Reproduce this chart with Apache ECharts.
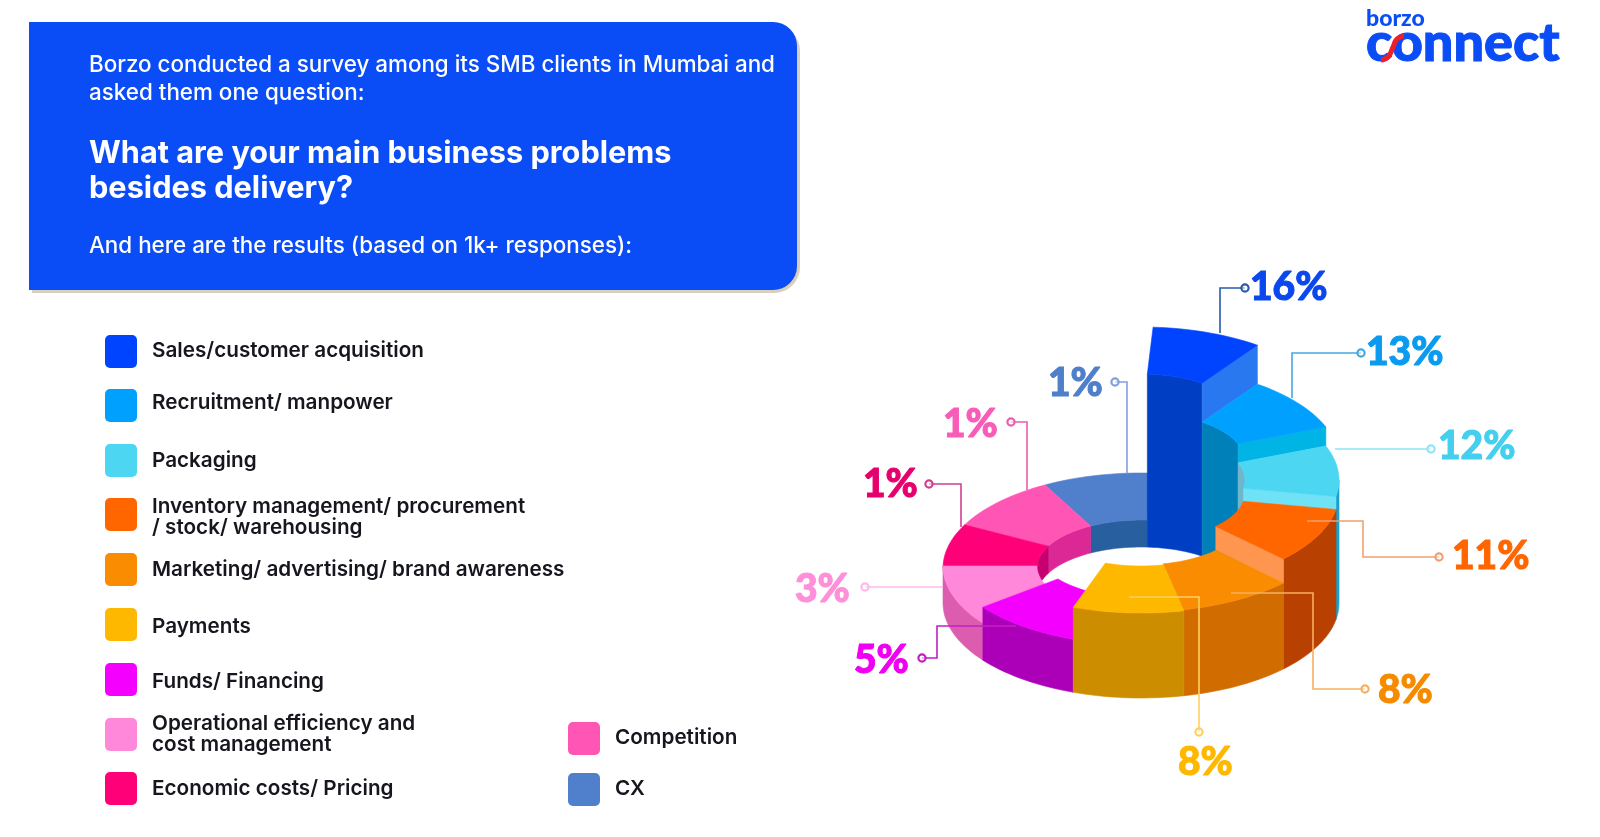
<!DOCTYPE html>
<html><head><meta charset="utf-8">
<style>html,body{margin:0;padding:0;background:#fff}#c{width:1600px;height:837px}</style>
<script src="https://cdn.jsdelivr.net/npm/echarts@6/dist/echarts.min.js"></script>
</head><body><div id="c"></div>
<script>
// ---- data ----
const categories = ['Sales/customer acquisition','Recruitment/ manpower','Packaging','Inventory management/ procurement\n/ stock/ warehousing','Marketing/ advertising/ brand awareness','Payments','Funds/ Financing','Operational efficiency and\ncost management','Economic costs/ Pricing','Competition','CX'];
const percentLabels = [16,13,12,11,8,8,5,3,1,1,1];
// the drawing gives each slice a near equal sweep and a height that carries the value
const sliceSweeps = [32.5,33,31,34,33.5,32.5,33,37,27,34,32.5];
const sliceHeights = [181,142,123,110,86,85,53,37,35,35,35];
const firstAngle = 3.5;

// ---- styles ----
const topColors = ['#0044ff','#00a0ff','#4dd6f2','#ff6600','#f98c00','#ffb800','#f400ff','#ff88da','#ff0078','#ff55b4','#5080cc'];
const outerColors = ['#0036c8','#0080c0','#1a9fd0','#b84000','#d06c00','#cc8e00','#ac00b8','#dc5cb0','#c60070','#dc2895','#28609f'];
const innerColors = ['#003fc4','#0080b8','#6db6cc','#b84000','#d06c00','#cc8e00','#ac00b8','#dc5cb0','#c60070','#dc2895','#28609f'];
const endColors = ['#2a78f0','#00b4e6','#6fe2f5','#ff9650','#d88a10','#ffb800','#f400ff','#ff88da','#ff0078','#ff55b4','#5080cc'];
const labelColors = ['#0a48ee','#0a9bf0','#45cfee','#ff6600','#f68b00','#ffb800','#f000f0','#ff8fd8','#e6006e','#f95cb8','#4f7fcb'];
const leaderColors = ['#2a5aa8','#45a8de','#8fe4f6','#f0a070','#f5b060','#ffd060','#c020c0','#ffb8e8','#d0408f','#e85fb0','#7fa0e0'];
const swatchColors = ['#0044ff','#00a0ff','#4dd6f2','#ff6600','#f98c00','#ffb800','#f400ff','#ff88da','#ff0078','#ff55b4','#5080cc'];

// ---- layout ----
const RX=198, RY=95, IX=104, IY=48, INNER_BASE=8;
const leaderPaths = [
 [[1245,288],[1220,288],[1220,333]],
 [[1361,353],[1292,353],[1292,398]],
 [[1431,449],[1335,449]],
 [[1439,557],[1363,557],[1363,521],[1307,521]],
 [[1365,689],[1313,689],[1313,593],[1231,593]],
 [[1199,732],[1199,597],[1129,597]],
 [[922,658],[937,658],[937,626],[1016,626]],
 [[865,587],[943,587]],
 [[929,484],[961,484],[961,527]],
 [[1011,422],[1027,422],[1027,490]],
 [[1115,382],[1127,382],[1127,473]]
];
const labelAnchors = [[1250,287],[1366,352],[1438,446],[1452,556],[1378,690],[1178,762],[854,660],[795,589],[863,484],[943,424],[1048,383]];
const legendItems = [
 [105,335,152,351],[105,389,152,403],[105,444,152,461],[105,498,152,517],[105,553,152,570],[105,608,152,627],[105,663,152,682],[105,718,152,734],[105,772,152,789],[568,722,615,738],[568,773,615,789]
];
const FF='Inter, Lato, sans-serif', FP='Lato, sans-serif';

// ---- slices ----
const rows=[]; let a=firstAngle;
categories.forEach((c,i)=>{ rows.push([i,a,a+sliceSweeps[i],sliceHeights[i]]); a+=sliceSweeps[i]; });
const rad=d=>d*Math.PI/180;
function arc(rx,ry,h,a0,a1){ const n=Math.max(2,Math.ceil(Math.abs(a1-a0)/2)),p=[]; for(let k=0;k<=n;k++){const t=rad(a0+(a1-a0)*k/n); p.push([rx*Math.sin(t),h+ry*Math.cos(t)]);} return p; }
function clip(a0,a1,lo,hi){ const s=Math.max(a0,lo),e=Math.min(a1,hi); return s<e?[s,e]:null; }

function renderSlice(params,api){
  const i=api.value(0),a0=api.value(1),a1=api.value(2),h=api.value(3);
  const mid=(a0+a1)/2, order=Math.round((-Math.cos(rad(mid))+1)*100);
  const kids=[];
  const poly=(pts,fill,sub)=>kids.push({type:'polygon',z2:order*10+sub,
     shape:{points:pts.map(p=>api.coord(p))},style:{fill:fill,stroke:fill,lineWidth:0.6}});
  [[0,90],[270,450]].forEach(w=>{ const c=clip(a0,a1,w[0],w[1]); if(c){
     poly(arc(IX,IY,h,c[0],c[1]).concat(arc(IX,IY,INNER_BASE,c[1],c[0])),innerColors[i],1);} });
  const o=clip(a0,a1,90,270);
  if(o){ poly(arc(RX,RY,h,o[0],o[1]).concat(arc(RX,RY,0,o[1],o[0])),outerColors[i],2); }
  const next=sliceHeights[(i+1)%sliceHeights.length];
  if(a1<180 && next<h){
    const t=rad(a1),s=Math.sin(t),k=Math.cos(t);
    poly([[RX*s,h+RY*k],[IX*s,h+IY*k],[IX*s,next+IY*k],[RX*s,next+RY*k]],endColors[i],3);
  }
  poly(arc(RX,RY,h,a0,a1).concat(arc(IX,IY,h,a1,a0)),topColors[i],4);
  return {type:'group',children:kids};
}

// ---- page furniture ----
const g=[];
const T=(text,x,y,size,weight,fill,extra)=>g.push({type:'text',z:20,x:x,y:y,
   style:Object.assign({text:text,fontFamily:FF,fontSize:size,fontWeight:weight,fill:fill,verticalAlign:'middle',align:'left',lineHeight:21},extra||{})});
g.push({type:'rect',z:1,shape:{x:32,y:25,width:768,height:268,r:[0,26,26,0]},style:{fill:'#d8cfbf'}});
g.push({type:'rect',z:2,shape:{x:29,y:22,width:768,height:268,r:[0,24,24,0]},style:{fill:'#0a4cf5'}});
T('Borzo conducted a survey among its SMB clients in Mumbai and',89,65,22.4,500,'#fff');
T('asked them one question:',89,93,22.4,500,'#fff');
T('What are your main business problems',89,154,30.7,700,'#fff');
T('besides delivery?',89,189,30.7,700,'#fff');
T('And here are the results (based on 1k+ responses):',89,246,22.4,500,'#fff');
categories.forEach((c,i)=>{
  const L=legendItems[i];
  g.push({type:'rect',z:5,shape:{x:L[0],y:L[1],width:32,height:33,r:5},style:{fill:swatchColors[i]}});
  T(c,L[2],L[3],20.7,600,'#16161f');
});
percentLabels.forEach((v,i)=>{
  const pts=leaderPaths[i],d=pts[0];
  g.push({type:'polyline',z:15,shape:{points:pts},style:{stroke:leaderColors[i],lineWidth:1.6,fill:null}});
  g.push({type:'circle',z:16,shape:{cx:d[0],cy:d[1],r:3.6},style:{fill:'#fff',fillOpacity:0.55,stroke:leaderColors[i],lineWidth:2.2}});
  T(v+'%',labelAnchors[i][0],labelAnchors[i][1],39,900,labelColors[i],{fontFamily:FP,stroke:labelColors[i],lineWidth:1});
});
T('borzo',1366,19,23,900,'#0a4cf5',{fontFamily:FP});
T('connect',1366,44,54,900,'#0a4cf5',{fontFamily:FP,stroke:'#0a4cf5',lineWidth:1});
g.push({type:'polyline',z:25,shape:{points:[[1381,60],[1388,57],[1393,47],[1397,39],[1404,36]],smooth:0.5},style:{stroke:'#f0202a',lineWidth:5,fill:null}});

const chart=echarts.init(document.getElementById('c'),null,{renderer:'canvas'});
chart.setOption({
  animation:false, backgroundColor:'#ffffff',
  grid:{left:0,top:0,width:1600,height:837},
  xAxis:{type:'value',min:-1141,max:459,show:false},
  yAxis:{type:'value',min:-234,max:603,show:false},
  graphic:{elements:g},
  series:[{type:'custom',name:'Main business problems',coordinateSystem:'cartesian2d',renderItem:renderSlice,
     encode:{x:1,y:3},clip:false,silent:true,data:rows}]
});
</script></body></html>
